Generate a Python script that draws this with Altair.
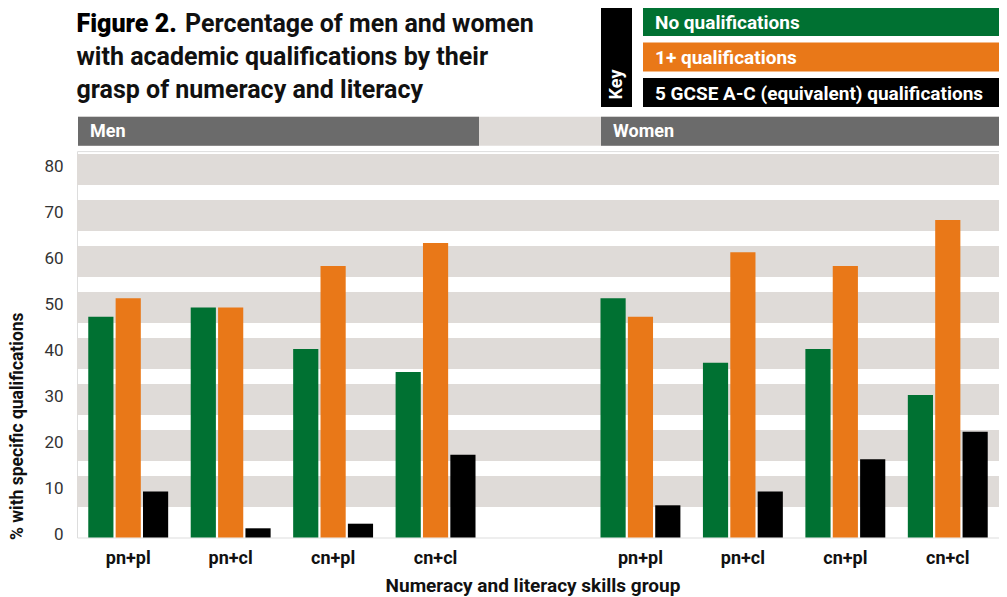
import altair as alt
import pandas as pd

# ---------------- data ----------------
groups = ["pn+pl", "pn+cl", "cn+pl", "cn+cl"]
sexes = ["Men", "Women"]
quals = ["No qualifications", "1+ qualifications", "5 GCSE A-C (equivalent) qualifications"]
qual_colors = ["#007132", "#e97818", "#000000"]

men_none = [48, 50, 41, 36]
men_one = [52, 50, 59, 64]
men_five = [10, 2, 3, 18]
women_none = [52, 38, 41, 31]
women_one = [48, 62, 59, 69]
women_five = [7, 10, 17, 23]

y_ticks = [0, 10, 20, 30, 40, 50, 60, 70, 80]

title_bold = "Figure 2."
title_lines = [
    "Percentage of men and women",
    "with academic qualifications by their",
    "grasp of numeracy and literacy",
]
x_title = "Numeracy and literacy skills group"
y_title = "% with specific qualifications"

# ---------------- table ----------------
series = {
    "Men": [men_none, men_one, men_five],
    "Women": [women_none, women_one, women_five],
}
rows = []
for sex in sexes:
    for qi, q in enumerate(quals):
        for gi, g in enumerate(groups):
            rows.append({"slot": f"{sex}|{g}", "qual": q, "value": series[sex][qi][gi]})
df = pd.DataFrame(rows)

slot_domain = [f"Men|{g}" for g in groups] + [" |"] + [f"Women|{g}" for g in groups]

W = 922
H = 386.4
YMAX = 84
FONT = "Roboto"

yscale = alt.Scale(domain=[0, YMAX], nice=False, zero=True)
y_axis = alt.Axis(
    values=y_ticks,
    grid=False,
    ticks=False,
    domain=False,
    labelFontSize=17,
    labelColor="#333333",
    labelPadding=14,
    labelOffset=-3,
    title=y_title,
    titleFontSize=17.5,
    titleFontWeight="bold",
    titleColor="#111111",
    titleAngle=270,
    titleAlign="left",
    titleBaseline="alphabetic",
    titleX=-55,
    titleY=388.5,
)

bands = (
    alt.Chart(pd.DataFrame({"t": y_ticks}))
    .transform_filter("datum.t > 0")
    .transform_calculate(lo="datum.t - 3.37", hi="datum.t + 3.37")
    .mark_rect(color="#dfdbd8")
    .encode(
        x=alt.value(0),
        x2=alt.value(W),
        y=alt.Y("lo:Q", scale=yscale, axis=y_axis),
        y2="hi:Q",
    )
)

bars = (
    alt.Chart(df)
    .mark_bar()
    .encode(
        x=alt.X(
            "slot:N",
            scale=alt.Scale(domain=slot_domain, paddingInner=0.22, paddingOuter=0.11),
            sort=slot_domain,
            axis=alt.Axis(
                title=x_title,
                labelExpr="split(datum.label, '|')[1]",
                labelAngle=0,
                labelFontSize=18,
                labelFontWeight="bold",
                labelColor="#111111",
                labelPadding=11.5,
                ticks=False,
                domain=False,
                titleFontSize=19,
                titleFontWeight="bold",
                titleColor="#111111",
                titleX=455.5,
                titleY=54,
                titleAlign="center",
                titleBaseline="alphabetic",
            ),
        ),
        xOffset=alt.XOffset(
            "qual:N",
            scale=alt.Scale(domain=quals, paddingInner=0.08, paddingOuter=0),
            sort=quals,
        ),
        y=alt.Y("value:Q", scale=yscale, axis=y_axis),
        color=alt.Color("qual:N", scale=alt.Scale(domain=quals, range=qual_colors), legend=None),
    )
)

one = alt.Data(values=[{"k": 1}])

layers = [bands, bars]

# header strip (Men / Women)
layers.append(
    alt.Chart(one).mark_rect(color="#dfdbd8").encode(
        x=alt.value(1), x2=alt.value(W), y=alt.value(-34.4), y2=alt.value(-5.4)
    )
)
for i, sex in enumerate(sexes):
    x0 = [1, 524][i]
    x1 = [402, W][i]
    layers.append(
        alt.Chart(one).mark_rect(color="#6b6b6b").encode(
            x=alt.value(x0), x2=alt.value(x1), y=alt.value(-34.4), y2=alt.value(-5.4)
        )
    )
    layers.append(
        alt.Chart(one)
        .mark_text(text=sex, font=FONT, fontSize=18, fontWeight="bold", color="white",
                   align="left", baseline="middle")
        .encode(x=alt.value(x0 + 12), y=alt.value(-19.6))
    )

# key
layers.append(
    alt.Chart(one).mark_rect(color="#000000").encode(
        x=alt.value(524), x2=alt.value(555), y=alt.value(-143.1), y2=alt.value(-44.1)
    )
)
layers.append(
    alt.Chart(one)
    .mark_text(text="Key", font=FONT, fontSize=18, fontWeight="bold", color="white",
               align="center", baseline="middle", angle=270)
    .encode(x=alt.value(540), y=alt.value(-66.6))
)
for i, q in enumerate(quals):
    top = -144.1 + i * 35.5
    layers.append(
        alt.Chart(one).mark_rect(color=qual_colors[i]).encode(
            x=alt.value(566), x2=alt.value(W), y=alt.value(max(top, -143.1)), y2=alt.value(top + 29)
        )
    )
    layers.append(
        alt.Chart(one)
        .mark_text(text=q, font=FONT, fontSize=19, fontWeight="bold", color="white",
                   align="left", baseline="middle")
        .encode(x=alt.value(578), y=alt.value(top + 15.5))
    )

# title
layers.append(
    alt.Chart(one)
    .mark_text(text=title_bold, font=FONT, fontSize=25, fontWeight=900, color="#000000",
               align="left", baseline="alphabetic")
    .encode(x=alt.value(-0.5), y=alt.value(-119.6))
)
for i, line in enumerate(title_lines):
    layers.append(
        alt.Chart(one)
        .mark_text(text=line, font=FONT, fontSize=25, fontWeight="bold", color="#111111",
                   align="left", baseline="alphabetic")
        .encode(x=alt.value(108 if i == 0 else -0.5), y=alt.value(-119.6 + i * 33.3))
    )

chart = (
    alt.layer(*layers)
    .properties(
        width=W,
        height=H,
        padding={"left": 69, "top": 143.1, "right": 0, "bottom": 58},
        autosize=alt.AutoSizeParams(type="none"),
    )
    .configure_view(stroke=None)
    .configure(font=FONT)
)

chart.save("out.html", embed_options={"renderer": "svg", "actions": False})
